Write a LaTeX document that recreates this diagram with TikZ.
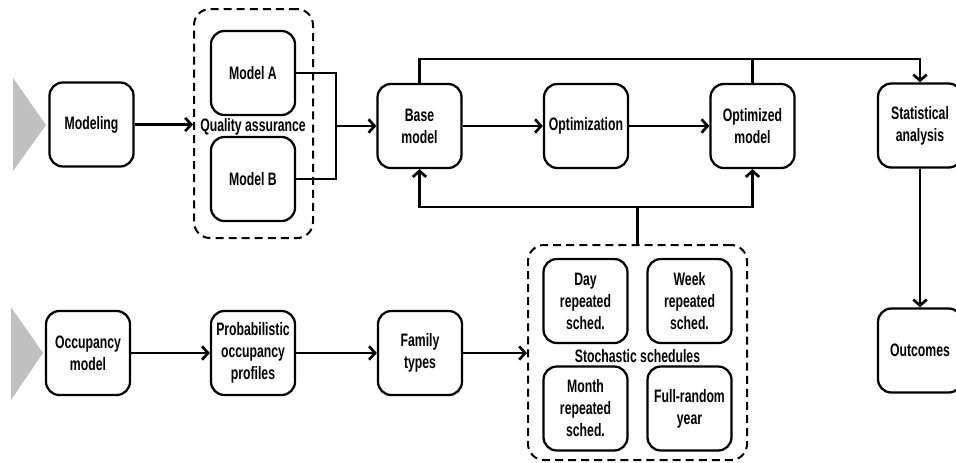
\documentclass[tikz,border=0pt]{standalone}
\usepackage{fontspec}
\newfontfamily\condfont{Liberation Sans}[FakeStretch=0.68, BoldFont={* Bold}, BoldFeatures={FakeStretch=0.68}]
\usetikzlibrary{arrows.meta,positioning}
\definecolor{trigray}{HTML}{C0C0C0}
\begin{document}
\begin{tikzpicture}[x=0.75pt,y=-0.75pt,
  >={Straight Barb[length=4.5pt,width=10pt]},
  lbl/.style={font=\condfont\bfseries\fontsize{13.5}{16.5}\selectfont, align=center, inner sep=0pt},
  procbox/.style={lbl, draw, line width=1.7pt, rounded corners=10pt, minimum width=63pt, minimum height=63pt},
  groupbox/.style={draw, line width=1.5pt, dash pattern=on 6pt off 3.8pt, rounded corners=12pt, inner sep=0pt},
  conn/.style={->, line width=2pt},
  wire/.style={line width=2pt}
]
\useasboundingbox (0,0) rectangle (956,462);

% entry triangles
\fill[trigray] (13,78) -- (46,125) -- (13,171) -- cycle;
\fill[trigray] (11,307) -- (43,353) -- (11,400) -- cycle;

% top row
\node[procbox] (modeling) at (91.5,124.5) {Modeling};
\node[groupbox, minimum width=89.25pt, minimum height=171.75pt] (qa) at (253.5,123.5) {};
\node[procbox] (modelA) at (253,73) {Model A};
\node[procbox] (modelB) at (253,179) {Model B};
\node[lbl] (qalabel) at (253,127) {Quality assurance};

\node[procbox] (base) at (419.5,126) {Base\\model};
\node[procbox] (optim) at (586,126) {Optimization};
\node[procbox] (optmod) at (752.5,126) {Optimized\\model};
\node[procbox] (stat) at (920,125.5) {Statistical\\analysis};
\node[procbox] (outcomes) at (920,350.5) {Outcomes};

% bottom row
\node[procbox] (occ) at (88,353) {Occupancy\\model};
\node[procbox] (prob) at (253,353) {Probabilistic\\occupancy\\profiles};
\node[procbox] (family) at (420,353) {Family\\types};

\node[groupbox, minimum width=164.25pt, minimum height=161.25pt] (stoch) at (637.5,352.5) {};
\node[procbox] (day) at (585.5,301) {Day\\repeated\\sched.};
\node[procbox] (week) at (689.5,301) {Week\\repeated\\sched.};
\node[procbox] (month) at (585.5,408.5) {Month\\repeated\\sched.};
\node[procbox] (full) at (689.5,408.5) {Full-random\\year};
\node[lbl] (stlabel) at (637.5,356) {Stochastic schedules};

% junction coordinates
\coordinate (jab) at (336,126);
\coordinate (ttop) at (920,59);
\coordinate (bj) at (637.5,207);

% connectors
\draw[conn] (modeling.east) -- (modeling.east -| qa.west);
\draw[wire] (modelA.east) -| (jab) |- (modelB.east);
\draw[conn] (jab) -- (base.west);
\draw[conn] (base) -- (optim);
\draw[conn] (optim) -- (optmod);
\draw[conn] (base.north) |- (ttop) -- (stat.north);
\draw[wire] (optmod.north) -- (optmod.north |- ttop);
\draw[wire] (stoch.north) -- (bj);
\draw[conn] (bj) -| (base.south);
\draw[conn] (bj) -| (optmod.south);
\draw[conn] (stat.south) -- (outcomes.north);

\draw[conn] (occ) -- (prob);
\draw[conn] (prob) -- (family);
\draw[conn] (family.east) -- (family.east -| stoch.west);
\end{tikzpicture}
\end{document}
